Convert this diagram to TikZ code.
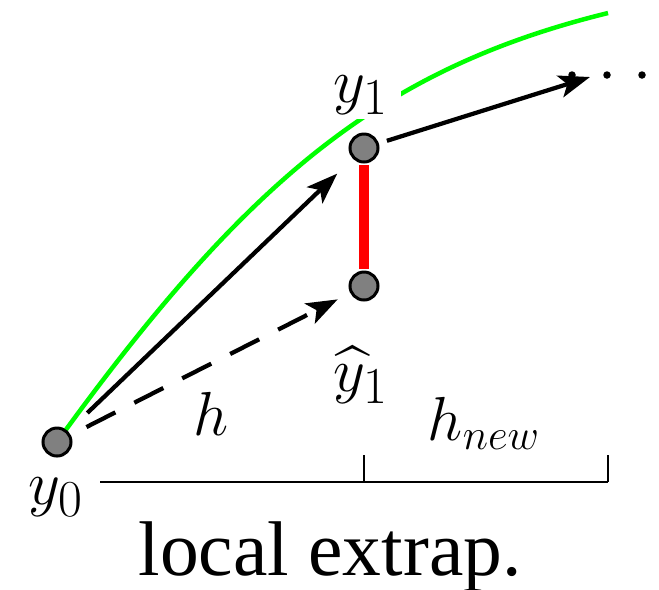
\documentclass[tikz,border=0pt]{standalone}
\usepackage{amsmath}
\usepackage{fontspec}
\setmainfont{Liberation Serif}
\usetikzlibrary{arrows.meta}

\tikzset{
	ptnode/.style = {circle, draw, line width = 1.2pt, fill = black!50, minimum size = 11.2pt, inner sep = 0},
	lbl/.style = {anchor = base, inner sep = 0, font = \fontsize{30}{35}\selectfont},
	hlbl/.style = {anchor = base, inner sep = 0, font = \fontsize{26}{30}\selectfont},
	arr/.style = {line width = 1.7pt, -{Stealth[length = 12.5pt, width = 9pt, inset = 3pt]}},
}

\begin{document}
\begin{tikzpicture}[x = 0.4pt, y = -0.4pt]
	\useasboundingbox (0, 0) rectangle (659, 589);

	% exact solution
	\draw[green, line width = 1.8pt] (57, 442) .. controls (250, 175) and (385, 68) .. (608, 13);
	\node[lbl, fill = white, inner xsep = 5pt, inner ysep = 2pt] (ly1) at (361, 102) {$y_1$};

	\node[ptnode] (y0) at (57, 442) {};
	\node[ptnode] (y1) at (364, 148) {};
	\node[ptnode] (y1hat) at (364, 286) {};
	\coordinate (far) at (590, 77);

	\draw[red, line width = 4pt, shorten <= 0.6pt, shorten >= 0.6pt] (y1) -- (y1hat);
	\draw[arr, shorten <= 10.6pt, shorten >= 8.6pt] (y0) -- (y1);
	\draw[arr, dash pattern = on 13pt off 8.5pt, shorten <= 7pt, shorten >= 5.6pt] (y0) -- (y1hat);
	\draw[arr, shorten <= 3.4pt] (y1) -- (far);
	\foreach \x in {572, 607, 642} {
			\fill (\x, 75) circle (1.5pt);
		}

	% step sizes
	\draw[line width = 0.8pt] (100, 482) -- (608, 482);
	\foreach \x in {364, 608} {
			\draw[line width = 0.8pt] (\x, 482) -- (\x, 455);
		}

	\node[lbl] (ly0) at (56, 504) {$y_0$};
	\node[lbl] (ly1hat) at (361, 391) {$\widehat{y}_1$};
	\node[hlbl] (lh) at (211, 435) {$h$};
	\node[hlbl] (lhnew) at (484, 440) {$h_{new}$};
	\node[anchor = base, inner sep = 0, font = \fontsize{31}{36}\selectfont] (title) at (330, 575) {local extrap.};
\end{tikzpicture}
\end{document}
